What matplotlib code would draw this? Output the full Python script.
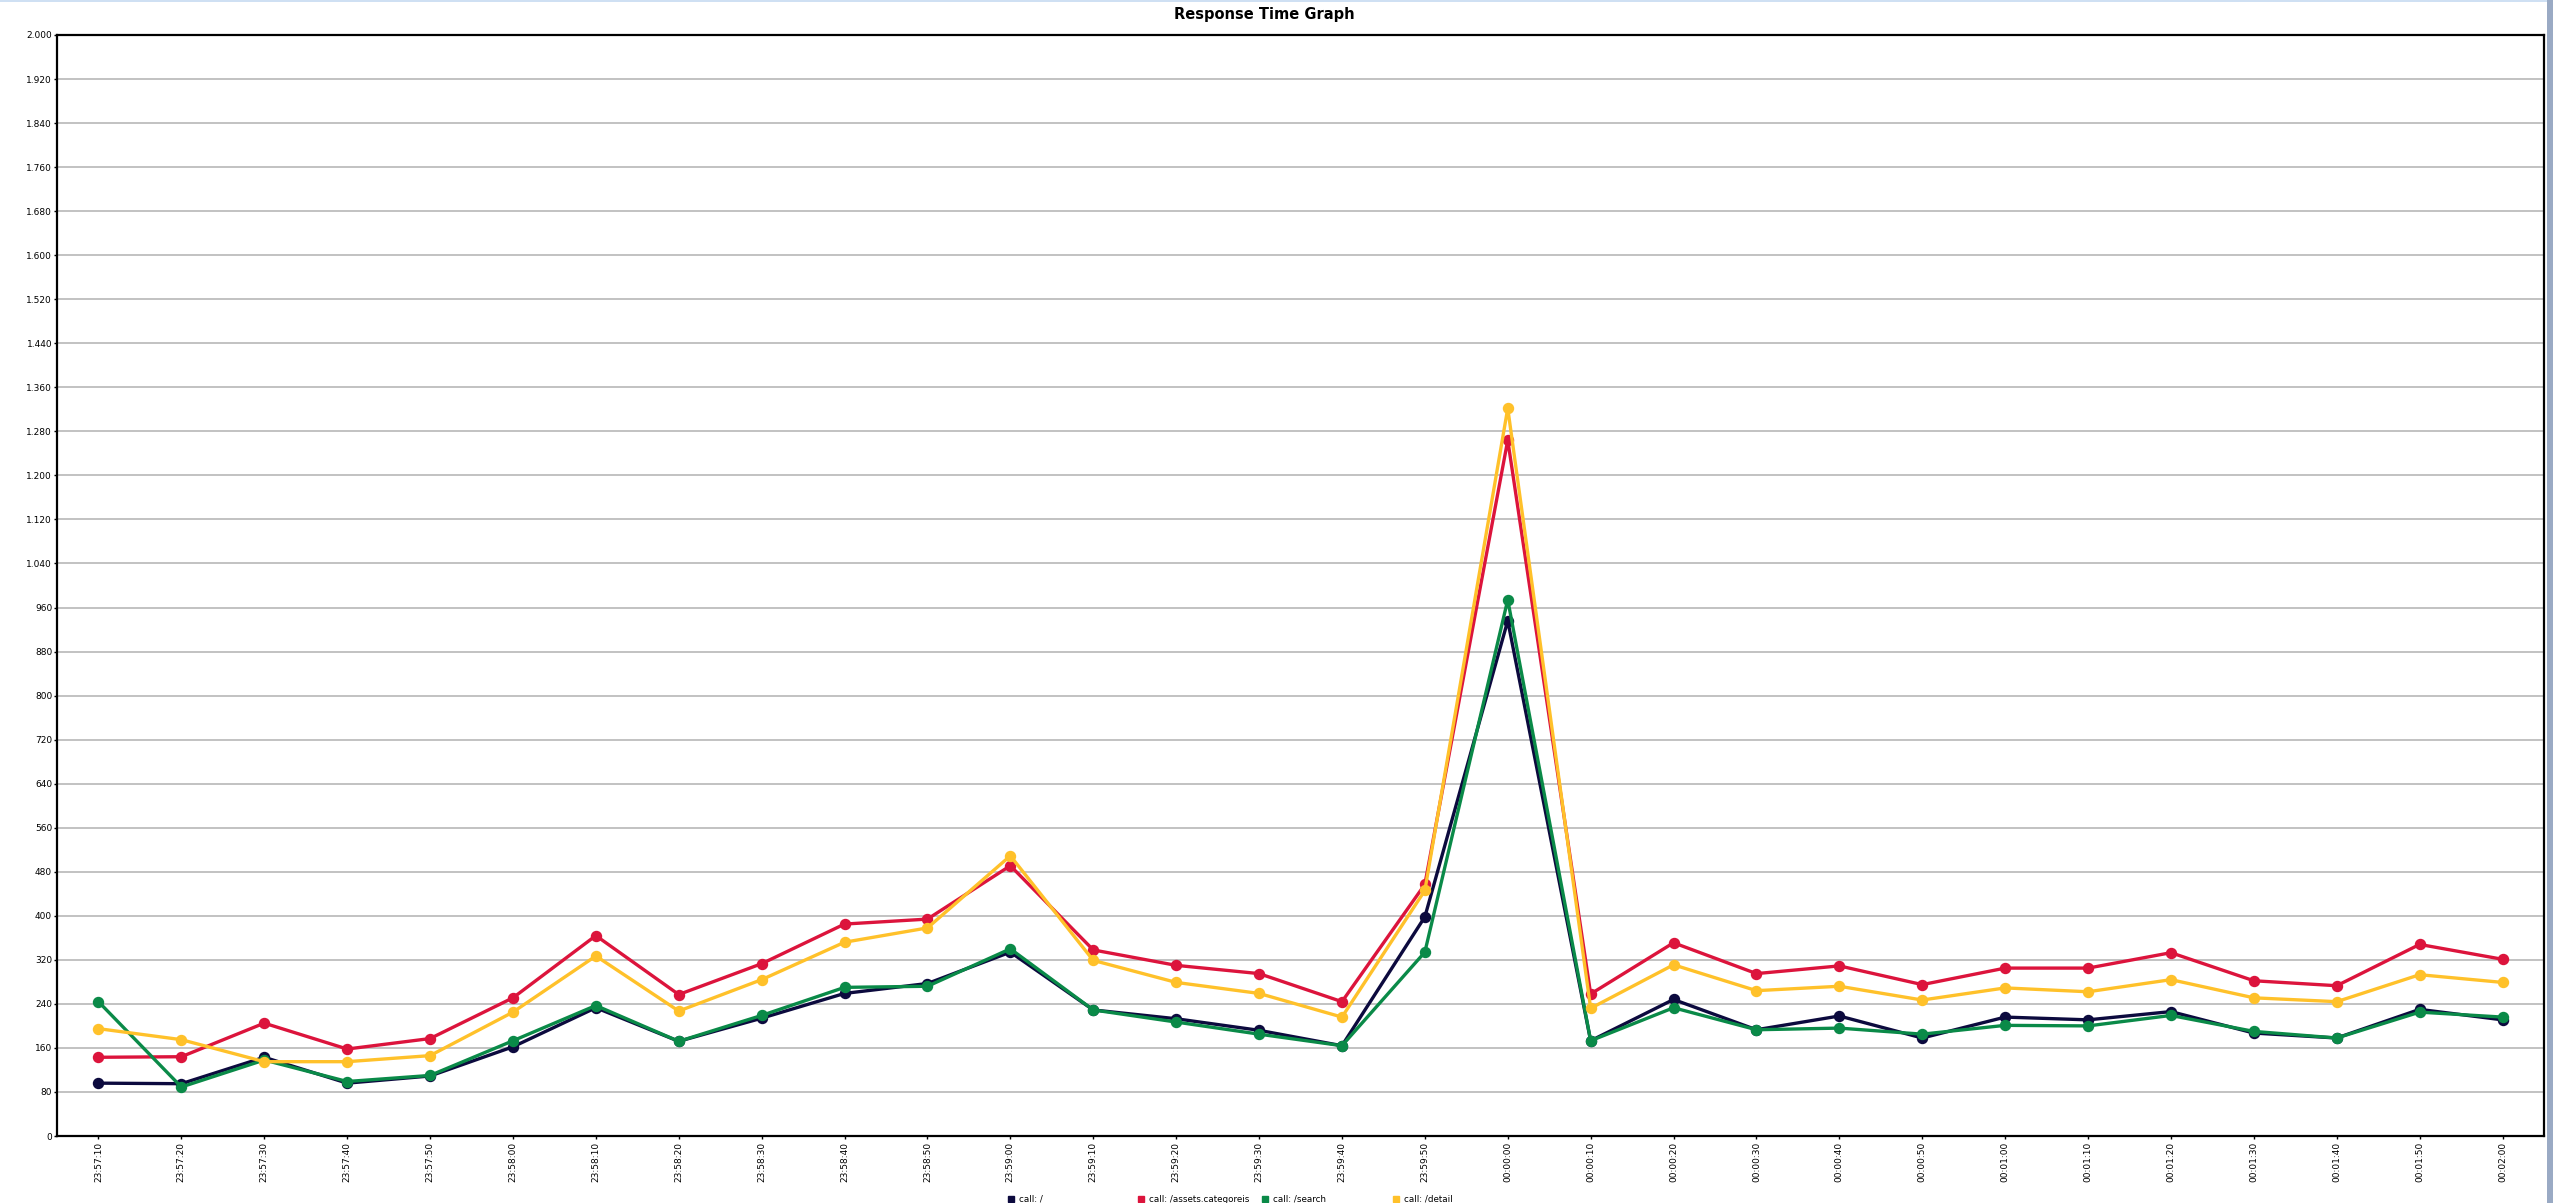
#!/usr/bin/env python3
"""Response time graph, four calls over ~5 minutes. Agg, writes out.png."""
import matplotlib
matplotlib.use("Agg")
import matplotlib.pyplot as plt
from matplotlib.lines import Line2D
from matplotlib.patches import Rectangle
from matplotlib.ticker import FuncFormatter, MultipleLocator

NAVY, CRIMSON, GREEN, GOLD = "#0c0a3e", "#dc143c", "#0a8a48", "#ffc12a"
GRID = "#b8b8b8"

times = ["23:57:10", "23:57:20", "23:57:30", "23:57:40", "23:57:50",
         "23:58:00", "23:58:10", "23:58:20", "23:58:30", "23:58:40",
         "23:58:50", "23:59:00", "23:59:10", "23:59:20", "23:59:30",
         "23:59:40", "23:59:50", "00:00:00", "00:00:10", "00:00:20",
         "00:00:30", "00:00:40", "00:00:50", "00:01:00", "00:01:10",
         "00:01:20", "00:01:30", "00:01:40", "00:01:50", "00:02:00"]

call_root = [96, 95, 143, 96, 109, 162, 233, 172, 214, 259, 277, 334, 229, 213, 192,
             164, 398, 936, 173, 248, 193, 218, 178, 216, 211, 226, 187, 178, 230, 211]
call_assets = [143, 144, 205, 158, 177, 251, 364, 257, 313, 385, 394, 491, 338, 310, 295,
               244, 457, 1264, 258, 351, 295, 309, 275, 305, 305, 333, 282, 273, 348, 321]
call_search = [244, 89, 138, 99, 110, 173, 237, 172, 219, 270, 272, 340, 229, 207, 185,
               164, 334, 974, 173, 233, 193, 196, 185, 201, 200, 219, 190, 178, 225, 216]
call_detail = [195, 175, 135, 135, 146, 225, 327, 227, 284, 352, 378, 509, 319, 279, 259,
               216, 446, 1322, 232, 311, 264, 272, 247, 269, 262, 284, 251, 244, 293, 279]

series = [("call: /", call_root, NAVY),
          ("call: /assets.categoreis", call_assets, CRIMSON),
          ("call: /search", call_search, GREEN),
          ("call: /detail", call_detail, GOLD)]

W, H = 2553, 1203
fig = plt.figure(figsize=(W / 100, H / 100), dpi=100, facecolor="white")
ax = fig.add_axes([57 / W, (H - 1136) / H, (2544 - 57) / W, (1136 - 35) / H])

for name, vals, col in series:
    ax.plot(times, vals, "-o", color=col, lw=2.4, ms=7.2, label=name, zorder=3)

ax.set_xlim(-0.5, len(times) - 0.5)
ax.set_ylim(0, 2000)
ax.yaxis.set_major_locator(MultipleLocator(80))
ax.yaxis.set_major_formatter(FuncFormatter(lambda v, _: f"{v:,.0f}".replace(",", ".")))
ax.grid(True, axis="y", color=GRID, lw=1.2)
ax.set_axisbelow(True)
ax.tick_params(axis="y", labelsize=6.5, length=2.5, width=1, pad=1)
ax.tick_params(axis="x", labelsize=6.5, length=2.5, width=1, pad=2, labelrotation=90)
for s in ax.spines.values():
    s.set_linewidth(1.6)
    s.set_color("black")

fig.text(1264 / W, 1 - 15 / H, "Response Time Graph", ha="center", va="center",
         fontsize=10.5, fontweight="bold")

# legend row along the bottom edge
leg_x = [1011, 1141, 1265, 1396]
for (name, _, col), px in zip(series, leg_x):
    fig.add_artist(Line2D([px / W], [4 / H], marker="s", ms=4, color=col, ls="none",
                          transform=fig.transFigure))
    fig.text((px + 8) / W, 4 / H, name, ha="left", va="center", fontsize=6.3)

# window frame bits from the screenshot
fig.add_artist(Rectangle((0, 1 - 2 / H), 1, 2 / H, transform=fig.transFigure,
                         color="#cfe0f3", lw=0))
fig.add_artist(Rectangle((2547 / W, 0), 6 / W, 1, transform=fig.transFigure,
                         color="#9aaac4", lw=0))

fig.savefig("out.png", dpi=100, facecolor="white")
